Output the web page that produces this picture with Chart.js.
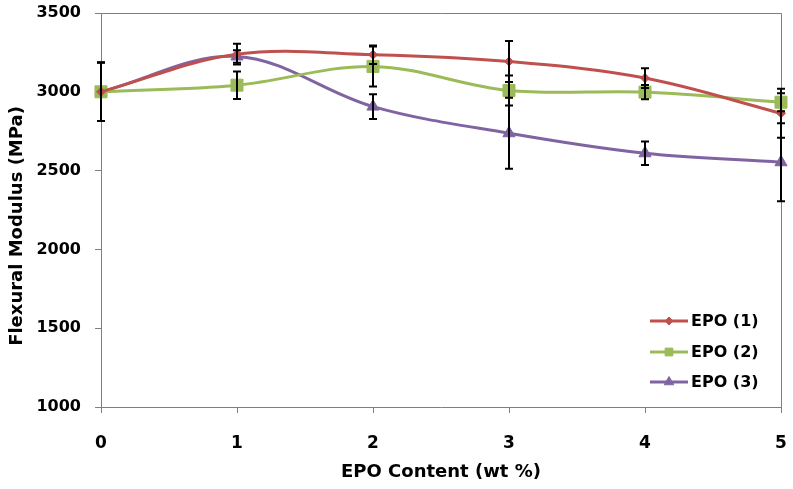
<!DOCTYPE html>
<html>
<head>
<meta charset="utf-8">
<script src="https://cdn.jsdelivr.net/npm/chart.js@4.4.1/dist/chart.umd.min.js"></script>
<style>
  body { margin: 0; background: #fff; }
  #wrap { width: 793px; height: 489px; }
</style>
</head>
<body>
<div id="wrap"><canvas id="mycanvas" width="793" height="489"></canvas></div>
<script>
// values
var epoContent = [0, 1, 2, 3, 4, 5];
var seriesNames = ['EPO (1)', 'EPO (2)', 'EPO (3)'];
var epo1 = [3000, 3239, 3235, 3192, 3087, 2864];
var epo2 = [3000, 3042, 3161, 3008, 2998, 2934];
var epo3 = [3000, 3224, 2906, 2737, 2610, 2553];
var err1 = [186, 66, 59, 130, 63, 155];
var err2 = [186, 87, 127, 95, 45, 57];
var err3 = [186, 40, 78, 225, 74, 248];
var yTicks = [1000, 1500, 2000, 2500, 3000, 3500];

var lineColors = ['rgb(192, 80, 77)', 'rgb(155, 187, 89)', 'rgb(128, 100, 162)'];
var axisColor = '#7f7f7f';
var FONT = '"DejaVu Sans", sans-serif';

function pts(vals) {
  var out = [];
  for (var i in vals) out.push({ x: epoContent[i], y: vals[i] });
  return out;
}

var errors = [err1, err2, err3];

// black error bars drawn on top of the lines
var errorBars = {
  id: 'errorBars',
  afterDatasetsDraw: function(chart) {
    var ctx = chart.ctx;
    var xs = chart.scales.x, ys = chart.scales.y;
    ctx.save();
    ctx.strokeStyle = '#000';
    ctx.lineWidth = 2;
    chart.data.datasets.forEach(function(ds, i) {
      ds.data.forEach(function(p, j) {
        var e = errors[i][j];
        var x = xs.getPixelForValue(p.x);
        var yt = ys.getPixelForValue(p.y + e);
        var yb = ys.getPixelForValue(p.y - e);
        ctx.beginPath();
        ctx.moveTo(x, yt); ctx.lineTo(x, yb);
        ctx.moveTo(x - 4, yt); ctx.lineTo(x + 4, yt);
        ctx.moveTo(x - 4, yb); ctx.lineTo(x + 4, yb);
        ctx.stroke();
      });
    });
    ctx.restore();
  }
};

// top / right frame of the plot area
var frame = {
  id: 'frame',
  beforeDatasetsDraw: function(chart) {
    var a = chart.chartArea, ctx = chart.ctx;
    ctx.save();
    ctx.strokeStyle = axisColor;
    ctx.lineWidth = 1;
    ctx.beginPath();
    ctx.moveTo(a.left, a.top + 0.5);
    ctx.lineTo(a.right + 0.5, a.top + 0.5);
    ctx.lineTo(a.right + 0.5, a.bottom);
    ctx.stroke();
    ctx.restore();
  }
};

// legend inside the plot, lower right + axis titles
var extras = {
  id: 'extras',
  afterDraw: function(chart) {
    var ctx = chart.ctx;
    ctx.save();
    var rows = [321, 352, 382];
    var markerR = [4, 5.5, 5.5];
    chart.data.datasets.forEach(function(ds, i) {
      var y = rows[i];
      ctx.strokeStyle = ds.borderColor;
      ctx.lineWidth = 3;
      ctx.beginPath();
      ctx.moveTo(650, y); ctx.lineTo(688, y);
      ctx.stroke();
      ctx.fillStyle = ds.borderColor;
      ctx.lineWidth = 1;
      Chart.helpers.drawPoint(ctx, { pointStyle: ds.pointStyle, radius: markerR[i], borderWidth: 1 }, 669, y);
      ctx.fillStyle = '#000';
      ctx.font = 'bold 16px ' + FONT;
      ctx.textAlign = 'left';
      ctx.textBaseline = 'middle';
      ctx.fillText(ds.label, 691, y + 1);
    });

    ctx.fillStyle = '#000';
    ctx.font = 'bold 18px ' + FONT;
    ctx.textAlign = 'center';
    ctx.textBaseline = 'middle';
    ctx.fillText('EPO Content (wt %)', (chart.chartArea.left + chart.chartArea.right) / 2, 472);

    ctx.translate(17, 226);
    ctx.rotate(-Math.PI / 2);
    ctx.fillText('Flexural Modulus (MPa)', 0, 0);
    ctx.restore();
  }
};

var chartdata = {
  datasets: [
    { label: seriesNames[0], data: pts(epo1), borderColor: lineColors[0], backgroundColor: lineColors[0],
      pointStyle: 'rectRot', pointRadius: 4.5 },
    { label: seriesNames[1], data: pts(epo2), borderColor: lineColors[1], backgroundColor: lineColors[1],
      pointStyle: 'rect', pointRadius: 8.5 },
    { label: seriesNames[2], data: pts(epo3), borderColor: lineColors[2], backgroundColor: lineColors[2],
      pointStyle: 'triangle', pointRadius: 7 }
  ]
};
chartdata.datasets.forEach(function(ds) {
  ds.borderWidth = 3;
  ds.tension = 0.35;
  ds.pointBorderWidth = 1;
  ds.clip = false;
});

function noPad(s) {
  s.paddingTop = 0; s.paddingBottom = 0; s.paddingLeft = 0; s.paddingRight = 0;
}

var ctx = document.getElementById('mycanvas');

var lineGraph = new Chart(ctx, {
  type: 'line',
  data: chartdata,
  plugins: [frame, errorBars, extras],
  options: {
    responsive: false,
    animation: false,
    layout: { padding: { top: 13, right: 12, left: 0, bottom: 0 } },
    plugins: {
      legend: { display: false },
      tooltip: { enabled: false }
    },
    scales: {
      x: {
        type: 'linear',
        min: 0, max: 5,
        afterFit: function(s) { s.height = 82; noPad(s); },
        afterBuildTicks: function(s) { s.ticks = epoContent.map(function(v) { return { value: v }; }); },
        grid: { drawOnChartArea: false, tickLength: 6, color: axisColor },
        border: { color: axisColor },
        ticks: { color: '#000', padding: 20, font: { family: FONT, size: 17, weight: 'bold' } }
      },
      y: {
        min: 1000, max: 3500,
        afterFit: function(s) { s.width = 101; noPad(s); },
        afterBuildTicks: function(s) { s.ticks = yTicks.map(function(v) { return { value: v }; }); },
        grid: { drawOnChartArea: false, tickLength: 6, color: axisColor },
        border: { color: axisColor },
        ticks: {
          color: '#000', padding: 14, font: { family: FONT, size: 16, weight: 'bold' },
          callback: function(v) { return String(v); }
        }
      }
    }
  }
});
</script>
</body>
</html>
